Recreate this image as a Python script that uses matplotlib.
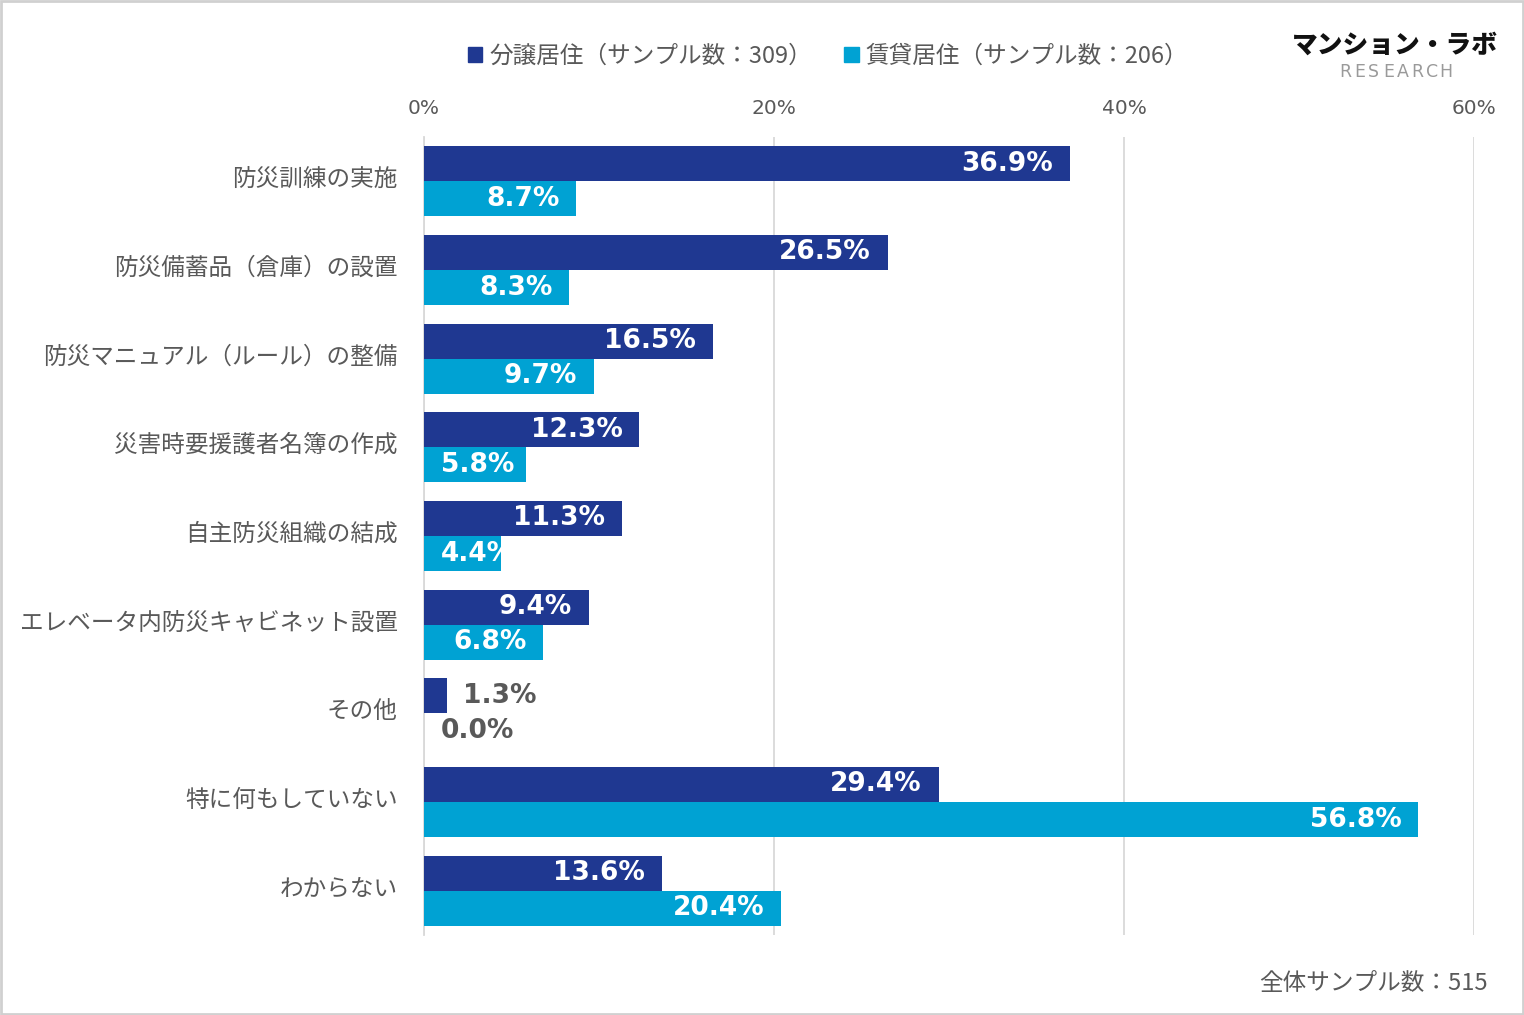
import matplotlib
matplotlib.use("Agg")
import matplotlib.pyplot as plt
from matplotlib.patches import Rectangle
from matplotlib.transforms import ScaledTranslation
import numpy as np

categories = ["防災訓練の実施", "防災備蓄品（倉庫）の設置", "防災マニュアル（ルール）の整備",
              "災害時要援護者名簿の作成", "自主防災組織の結成", "エレベータ内防災キャビネット設置",
              "その他", "特に何もしていない", "わからない"]
owned = [36.9, 26.5, 16.5, 12.3, 11.3, 9.4, 1.3, 29.4, 13.6]
rented = [8.7, 8.3, 9.7, 5.8, 4.4, 6.8, 0.0, 56.8, 20.4]
series_names = ["分譲居住（サンプル数：309）", "賃貸居住（サンプル数：206）"]
xticks = [0, 20, 40, 60]
xtick_labels = ["0%", "20%", "40%", "60%"]
footer = "全体サンプル数：515"

NAVY = "#1F3891"
CYAN = "#00A2D3"
GRAY = "#595959"
GRID = "#D9D9D9"
JP = ["Noto Sans CJK JP", "DejaVu Sans"]

plt.rcParams['font.family'] = JP

fig = plt.figure(figsize=(15.24, 10.15), dpi=100)
W, H = 1524, 1015
ax = fig.add_axes([424 / W, 1 - 935 / H, (1474 - 424) / W, (935 - 137) / H])

y = np.arange(len(categories))
h = 0.395
b1 = ax.barh(y - h / 2, owned, height=h, color=NAVY, zorder=3)
b2 = ax.barh(y + h / 2, rented, height=h, color=CYAN, zorder=3)

ax.set_xlim(0, 60)
ax.set_ylim(len(categories) - 0.5, -0.5)
ax.set_yticks(y)
ax.set_yticklabels(categories, fontsize=17, color=GRAY)
ax.tick_params(axis='y', length=0, pad=19)
shift = ScaledTranslation(0, 3 / 72, fig.dpi_scale_trans)
for t in ax.get_yticklabels():
    t.set_transform(t.get_transform() + shift)
ax.xaxis.tick_top()
ax.set_xticks(xticks)
ax.set_xticklabels(xtick_labels, fontsize=14.5, color=GRAY, family=["DejaVu Sans"])
ax.tick_params(axis='x', length=0, pad=14)
ax.grid(axis='x', color=GRID, linewidth=1.3, zorder=0)
for s in ["top", "right", "bottom"]:
    ax.spines[s].set_visible(False)
ax.spines["left"].set_color(GRID)
ax.spines["left"].set_linewidth(1.3)

fig.canvas.draw()
renderer = fig.canvas.get_renderer()
ax_left_px = ax.get_window_extent().x0
PAD = 12  # points

def label(bars, vals):
    for bar, v in zip(bars, vals):
        cy = bar.get_y() + bar.get_height() / 2
        txt = f"{v:.1f}%"
        kw = dict(va="center", fontsize=19, fontweight="bold", family=["DejaVu Sans"], zorder=4,
                  textcoords="offset points")
        if v >= 3:
            t = ax.annotate(txt, (v, cy), xytext=(-PAD, 0), ha="right", color="white", **kw)
            bb = t.get_window_extent(renderer)
            if bb.x0 < ax_left_px + PAD * 100 / 72:
                t.remove()
                ax.annotate(txt, (0, cy), xytext=(PAD, 0), ha="left", color="white", **kw)
        else:
            ax.annotate(txt, (v, cy), xytext=(PAD, 0), ha="left", color=GRAY, **kw)

label(b1, owned)
label(b2, rented)

handles = [Rectangle((0, 0), 1, 1, color=NAVY), Rectangle((0, 0), 1, 1, color=CYAN)]
fig.legend(handles, series_names, loc="center", bbox_to_anchor=(828 / W, 1 - 56 / H),
           ncol=2, frameon=False, fontsize=17, handlelength=0.62, handleheight=0.62,
           handletextpad=0.3, columnspacing=1.36, labelcolor=GRAY)

fig.text(1488 / W, 1 - 983 / H, footer, ha="right", va="center", fontsize=17, color=GRAY)

# logo
fig.text(1395 / W, 1 - 45 / H, "マンション・ラボ", ha="center", va="center", fontsize=18.5,
         fontweight="black", color="#111111")
logo2 = "RESEARCH"
xs = np.linspace(1345, 1446, len(logo2))
for ch, xp in zip(logo2, xs):
    fig.text(xp / W, 1 - 72 / H, ch, ha="center", va="center", fontsize=12.5,
             color="#9A9A9A", family=["DejaVu Sans"])

# border
fig.patches.append(Rectangle((0.0005, 0.0007), 0.999, 0.9986, transform=fig.transFigure,
                             fill=False, edgecolor="#D0D0D0", linewidth=2))

fig.savefig("out.png", dpi=100, facecolor="white")
